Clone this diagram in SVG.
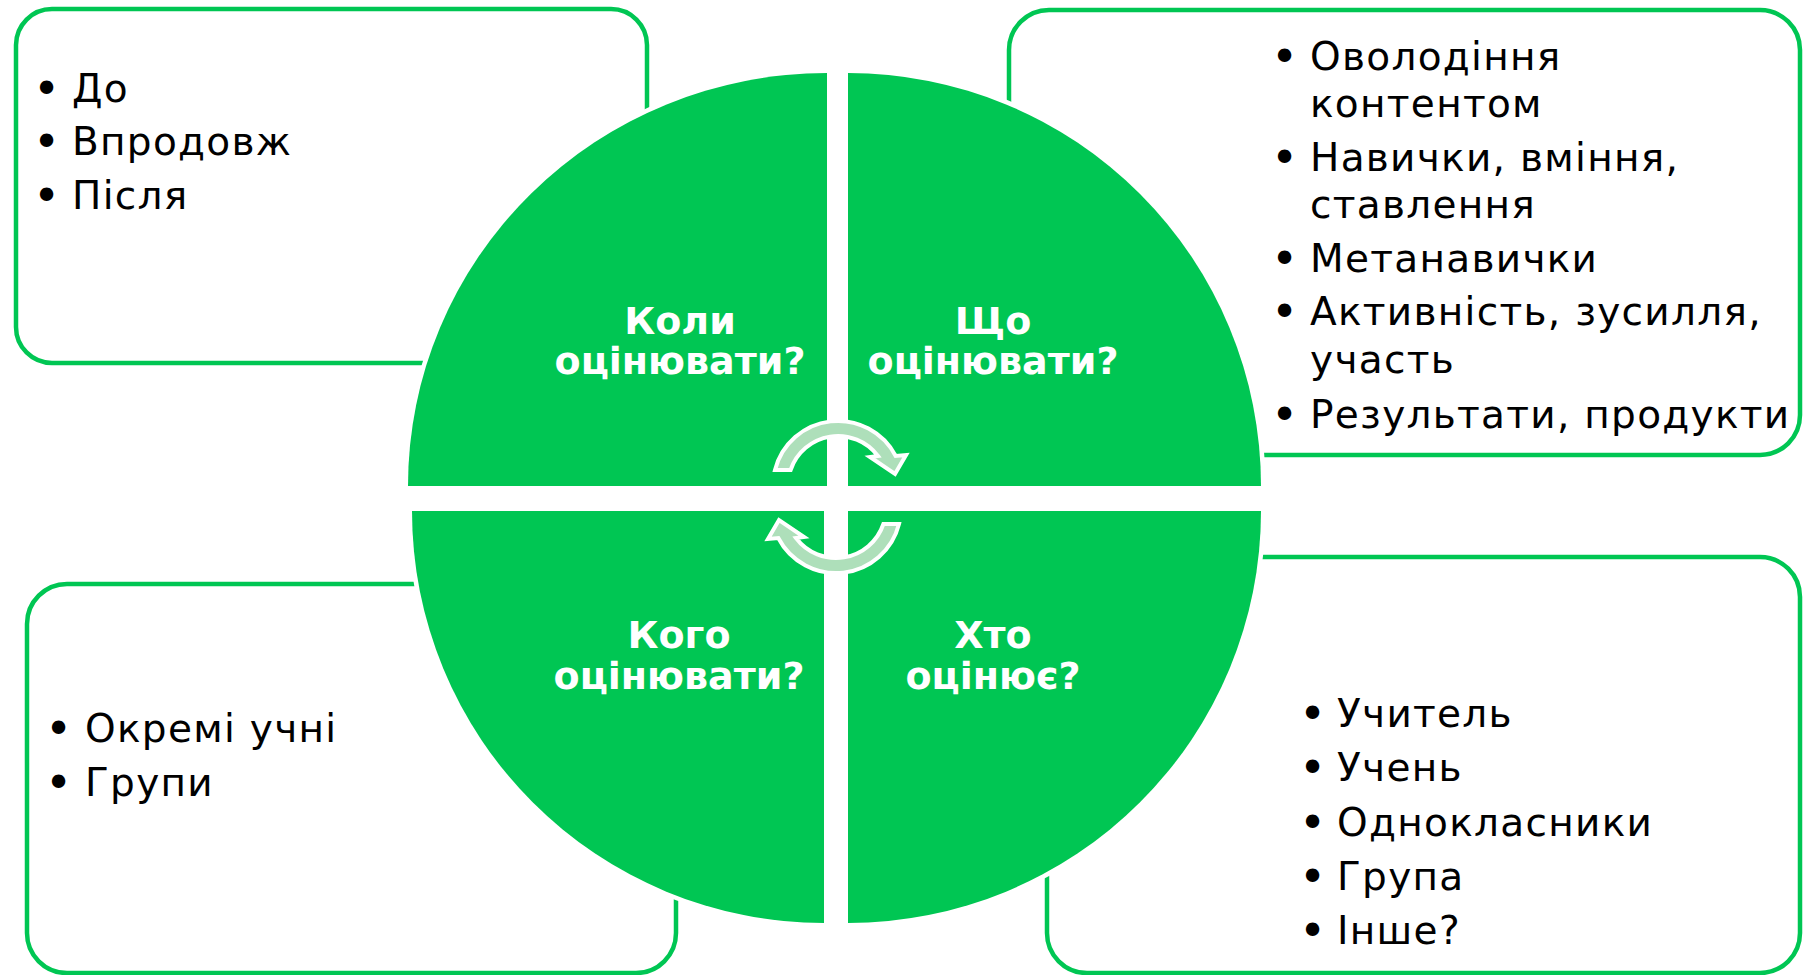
<svg xmlns="http://www.w3.org/2000/svg" width="1804" height="975" viewBox="0 0 1804 975">
<style>
.box{fill:#ffffff;stroke:#00c653;stroke-width:4.5}
.q{fill:#00c653;stroke:#ffffff;stroke-width:9;paint-order:stroke}
.lbl{font-family:'DejaVu Sans',Verdana,sans-serif;font-weight:bold;font-size:38px;fill:#ffffff;text-anchor:middle}
.bt{font-family:'DejaVu Sans',Verdana,sans-serif;font-size:39px;letter-spacing:1.3px;fill:#000000}
.bu{font-family:'DejaVu Sans',Verdana,sans-serif;font-size:46px;fill:#000000}
.arr{fill:#aedfba;stroke:#ffffff;stroke-width:4;stroke-linejoin:miter}
</style>
<rect width="1804" height="975" fill="#ffffff"/>
<g id="box-when">
<rect class="box" x="16" y="9" width="631" height="354" rx="36"/>
<text class="bu" x="33" y="105">•</text><text class="bt" x="72" y="102">До</text>
<text class="bu" x="33" y="158">•</text><text class="bt" x="72" y="155">Впродовж</text>
<text class="bu" x="33" y="212">•</text><text class="bt" x="72" y="209">Після</text>
</g>
<g id="box-what">
<rect class="box" x="1009" y="10" width="791" height="445" rx="40"/>
<text class="bu" x="1271" y="73">•</text><text class="bt" x="1310" y="70">Оволодіння</text>
<text class="bt" x="1310" y="117">контентом</text>
<text class="bu" x="1271" y="174">•</text><text class="bt" x="1310" y="171">Навички, вміння,</text>
<text class="bt" x="1310" y="218">ставлення</text>
<text class="bu" x="1271" y="275">•</text><text class="bt" x="1310" y="272">Метанавички</text>
<text class="bu" x="1271" y="328">•</text><text class="bt" x="1310" y="325">Активність, зусилля,</text>
<text class="bt" x="1310" y="373">участь</text>
<text class="bu" x="1271" y="431">•</text><text class="bt" x="1310" y="428">Результати, продукти</text>
</g>
<g id="box-whom">
<rect class="box" x="27" y="584" width="649" height="389" rx="40"/>
<text class="bu" x="45" y="745">•</text><text class="bt" x="85" y="742">Окремі учні</text>
<text class="bu" x="45" y="799">•</text><text class="bt" x="85" y="796">Групи</text>
</g>
<g id="box-who">
<rect class="box" x="1047" y="557" width="753" height="416" rx="40"/>
<text class="bu" x="1299" y="730">•</text><text class="bt" x="1337" y="727">Учитель</text>
<text class="bu" x="1299" y="784">•</text><text class="bt" x="1337" y="781">Учень</text>
<text class="bu" x="1299" y="839">•</text><text class="bt" x="1337" y="836">Однокласники</text>
<text class="bu" x="1299" y="893">•</text><text class="bt" x="1337" y="890">Група</text>
<text class="bu" x="1299" y="947">•</text><text class="bt" x="1337" y="944">Інше?</text>
</g>
<g id="q-when">
<path class="q" d="M827,486 L408,486 A419,413 0 0 1 827,73 Z"/>
<text class="lbl" x="680" y="334">Коли</text>
<text class="lbl" x="680" y="374">оцінювати?</text>
</g>
<g id="q-what">
<path class="q" d="M848,486 L848,73 A413,413 0 0 1 1261,486 Z"/>
<text class="lbl" x="993" y="334">Що</text>
<text class="lbl" x="993" y="374">оцінювати?</text>
</g>
<g id="q-whom">
<path class="q" d="M824,511 L824,923 A412,412 0 0 1 412,511 Z"/>
<text class="lbl" x="679" y="648">Кого</text>
<text class="lbl" x="679" y="689">оцінювати?</text>
</g>
<g id="q-who">
<path class="q" d="M848,511 L1261,511 A413,412 0 0 1 848,923 Z"/>
<text class="lbl" x="993" y="648">Хто</text>
<text class="lbl" x="993" y="689">оцінює?</text>
</g>
<g id="connectors">
<path id="arrow-top" class="arr" d="M775,470 A65,65 0 0 1 895.7,456 L906,455 L895,474 L870,457 L878,456 A50,50 0 0 0 790.6,470 Z"/>
<path id="arrow-bottom" class="arr" transform="rotate(180 837 497)" d="M775,470 A65,65 0 0 1 895.7,456 L906,455 L895,474 L870,457 L878,456 A50,50 0 0 0 790.6,470 Z"/>
</g>
</svg>
